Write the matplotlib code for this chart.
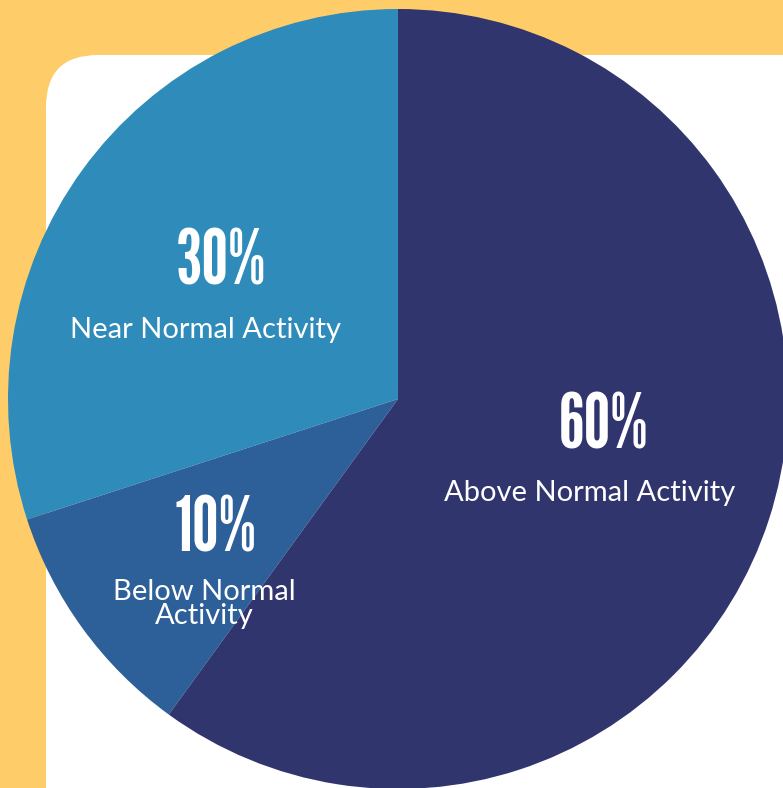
import matplotlib
matplotlib.use("Agg")
import matplotlib.pyplot as plt
from matplotlib.patches import FancyBboxPatch

# slices, counter-clockwise from 12 o'clock
captions = ["Near Normal Activity", "Below Normal\nActivity", "Above Normal Activity"]
values = [30, 10, 60]
pct_text = ["30%", "10%", "60%"]
colors = ["#2E8BBA", "#2D5F98", "#31356D"]

W, H = 783, 788
fig = plt.figure(figsize=(W / 100, H / 100), dpi=100, facecolor="#FECC68")
ax = fig.add_axes([0, 0, 1, 1])

# white card with rounded top-left corner
card = FancyBboxPatch((46, -100), 900, H - 55 + 100,
                      boxstyle="round,pad=0,rounding_size=52",
                      fc="white", ec="none", zorder=0)
ax.add_patch(card)

cx, cy, r = 398, H - 399, 390
ax.pie(values, colors=colors, startangle=90, counterclock=True,
       center=(cx, cy), radius=r, frame=True,
       wedgeprops=dict(linewidth=0, edgecolor="none"))
ax.set_xlim(0, W)
ax.set_ylim(0, H)
ax.set_aspect("equal")
ax.axis("off")

# label positions (pixels from top-left)
pct_pos = [(221, 284), (216, 552), (604, 448)]
cap_pos = [(205, 338), (204, 604), (590, 501)]

for t, (x, y) in zip(pct_text, pct_pos):
    ax.text(x, H - y, t, ha="center", va="baseline", color="white",
            fontsize=54, family=["League Gothic", "DejaVu Sans"])

for t, (x, y) in zip(captions, cap_pos):
    ax.text(x, H - y, t, ha="center", va="center" if "\n" in t else "baseline",
            color="white", fontsize=21, family=["Lato", "DejaVu Sans"],
            linespacing=0.92, multialignment="center")

fig.savefig("out.png", dpi=100, facecolor=fig.get_facecolor())
